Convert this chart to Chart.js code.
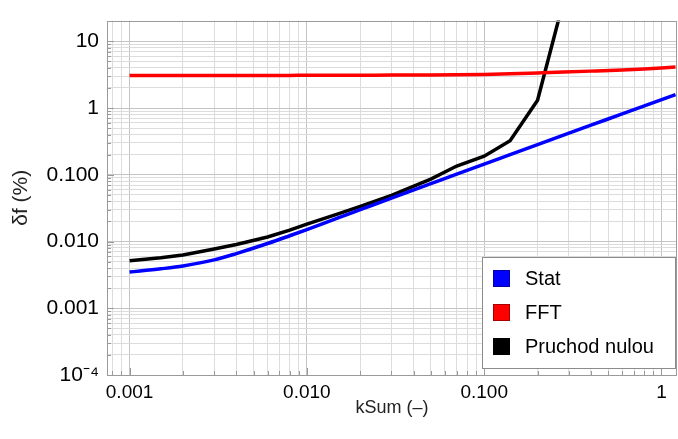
<!DOCTYPE html>
<html>
<head>
<meta charset="utf-8">
<script src="https://cdn.jsdelivr.net/npm/chart.js@4"></script>
<style>
  html, body { margin: 0; padding: 0; background: #fff; }
  #wrap { width: 678px; height: 439px; position: relative; }
</style>
</head>
<body>
<div id="wrap"><canvas id="chart" width="678" height="439"></canvas></div>
<script>
// ── DATA ──────────────────────────────────────────────────────────────────────
const kSum   = [0.001, 0.0015, 0.002, 0.003, 0.004, 0.006, 0.008, 0.01, 0.015, 0.02, 0.03,
                0.05, 0.07, 0.1, 0.14, 0.2, 0.28, 0.4, 0.6, 0.8, 1.2];
const stat   = [0.00348, 0.0039, 0.0043, 0.0053, 0.0066, 0.00933, 0.0122, 0.0151, 0.0226, 0.030, 0.0447,
                0.0735, 0.102, 0.144, 0.20, 0.283, 0.392, 0.553, 0.815, 1.075, 1.59];
const fft    = [3.07, 3.07, 3.07, 3.08, 3.08, 3.08, 3.08, 3.09, 3.09, 3.10, 3.11,
                3.13, 3.15, 3.19, 3.25, 3.35, 3.45, 3.57, 3.72, 3.85, 4.1];
const nulou  = [0.00513, 0.0057, 0.0063, 0.0077, 0.0090, 0.0117, 0.0148, 0.0182, 0.026, 0.0335, 0.049,
                0.086, 0.135, 0.19, 0.324, 1.31, 40, null, null, null, null];

const xLabels = { 0.001: '0.001', 0.01: '0.010', 0.1: '0.100', 1: '1' };
const yLabels = { 10: '10', 1: '1', 0.1: '0.100', 0.01: '0.010', 0.001: '0.001', 0.0001: '10\u207B\u2074' };

const FONT = '"Liberation Sans", Arial, sans-serif';
const pts  = (ys) => kSum.map((x, i) => ({ x, y: ys[i] }));

// all 1..9 x 10^n ticks inside [min, max]
function logTicks(min, max) {
  const out = [];
  for (let e = Math.floor(Math.log10(min)); e <= Math.ceil(Math.log10(max)); e++) {
    for (let k = 1; k <= 9; k++) {
      const v = parseFloat((k * Math.pow(10, e)).toPrecision(3));
      if (v >= min * 0.9999 && v <= max * 1.0001) out.push({ value: v });
    }
  }
  return out;
}
const isDecade = (v) => Math.abs(Math.log10(v) - Math.round(Math.log10(v))) < 1e-6;

// ── PLUGIN: frame, inner ticks, legend ────────────────────────────────────────
const framePlugin = {
  id: 'frame',
  afterDatasetsDraw(chart) {
    const { ctx, chartArea: a, scales } = chart;
    ctx.save();
    ctx.strokeStyle = '#9a9a9a';
    ctx.lineWidth = 1;
    // inner frame ticks
    ctx.beginPath();
    scales.x.ticks.forEach(t => {
      const px = Math.round(scales.x.getPixelForValue(t.value)) + 0.5;
      const len = isDecade(t.value) ? 7 : 4;
      ctx.moveTo(px, a.bottom); ctx.lineTo(px, a.bottom - len);
    });
    scales.y.ticks.forEach(t => {
      const py = Math.round(scales.y.getPixelForValue(t.value)) + 0.5;
      const len = isDecade(t.value) ? 7 : 4;
      ctx.moveTo(a.left, py); ctx.lineTo(a.left + len, py);
    });
    ctx.stroke();
    ctx.strokeRect(Math.round(a.left) + 0.5, Math.round(a.top) + 0.5,
                   Math.round(a.right - a.left) - 1, Math.round(a.bottom - a.top));
    ctx.restore();
  },
  afterDraw(chart) {
    const { ctx } = chart;
    const bx = 482, by = 257, bw = 193, bh = 111;
    ctx.save();
    ctx.fillStyle = '#fff';
    ctx.fillRect(bx, by, bw, bh);
    ctx.strokeStyle = '#8c8c8c';
    ctx.lineWidth = 1;
    ctx.strokeRect(bx + 0.5, by + 0.5, bw, bh);
    ctx.font = '20px ' + FONT;
    ctx.textBaseline = 'middle';
    chart.data.datasets.forEach((ds, i) => {
      const cy = 278 + i * 34.3;
      ctx.fillStyle = ds.borderColor;
      ctx.fillRect(493, Math.round(cy - 8.5), 17, 17);
      ctx.strokeStyle = 'rgba(0,0,0,0.35)';
      ctx.strokeRect(493.5, Math.round(cy - 8.5) + 0.5, 16, 16);
      ctx.fillStyle = '#000';
      ctx.fillText(ds.label, 525, cy + 1);
    });
    ctx.restore();
  }
};

// ── CHART ─────────────────────────────────────────────────────────────────────
const X_MIN = 0.000746, X_MAX = 1.223;
const Y_MIN = 0.0001,   Y_MAX = 20.4;

const line = (label, ys, color, smooth) => ({
  label, data: pts(ys), borderColor: color, backgroundColor: color,
  borderWidth: 3.5, pointRadius: 0, clip: 0, spanGaps: false,
  tension: smooth ? 0.4 : 0,
  cubicInterpolationMode: smooth ? 'monotone' : 'default'
});

new Chart(document.getElementById('chart'), {
  type: 'line',
  data: {
    datasets: [
      line('Stat', stat, '#0000ff', true),
      line('FFT', fft, '#ff0000', true),
      line('Pruchod nulou', nulou, '#000000', false)
    ]
  },
  options: {
    responsive: false,
    animation: false,
    layout: { padding: { top: 16, right: 1, left: 0, bottom: 0 } },
    plugins: { legend: { display: false }, tooltip: { enabled: false } },
    scales: {
      x: {
        type: 'logarithmic', min: X_MIN, max: X_MAX,
        afterBuildTicks: s => { s.ticks = logTicks(X_MIN, X_MAX); },
        afterFit: s => { s.height = 64; },
        border: { display: false },
        grid: {
          drawTicks: false,
          color: c => isDecade(c.tick.value) ? '#c4c4c4' : '#dcdcdc'
        },
        ticks: {
          autoSkip: false, maxRotation: 0, padding: 6, color: '#000',
          font: { family: FONT, size: 19 },
          callback: v => xLabels[v] || ''
        },
        title: {
          display: true, text: 'kSum (\u2013)', color: '#222',
          font: { family: FONT, size: 18 }, padding: { top: 2, bottom: 20 }
        }
      },
      y: {
        type: 'logarithmic', min: Y_MIN, max: Y_MAX,
        afterBuildTicks: s => { s.ticks = logTicks(Y_MIN, Y_MAX); },
        afterFit: s => { s.width = 107; },
        border: { display: false },
        grid: {
          drawTicks: false,
          color: c => isDecade(c.tick.value) ? '#c4c4c4' : '#dcdcdc'
        },
        ticks: {
          autoSkip: false, padding: 8, color: '#000',
          font: { family: FONT, size: 21 },
          callback: v => yLabels[v] || ''
        },
        title: {
          display: true, text: '\u03B4f (%)', color: '#222',
          font: { family: FONT, size: 21 }, padding: { top: 9, bottom: 0 }
        }
      }
    }
  },
  plugins: [framePlugin]
});
</script>
</body>
</html>
